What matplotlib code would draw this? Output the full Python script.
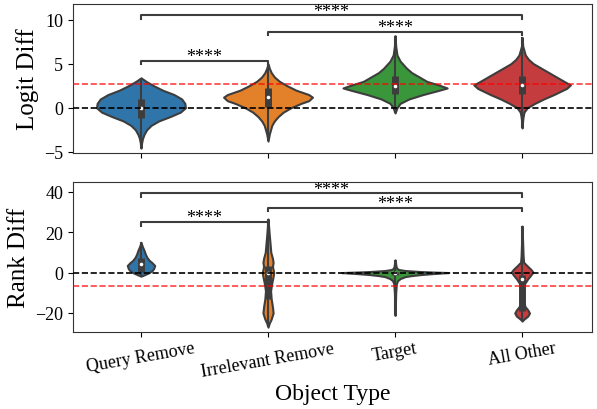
import matplotlib
matplotlib.use('Agg')
import matplotlib.pyplot as plt
import numpy as np

plt.rcParams['font.family'] = ['Liberation Serif', 'DejaVu Serif']
plt.rcParams['mathtext.fontset'] = 'stix'

categories = ["Query Remove", "Irrelevant Remove", "Target", "All Other"]
colors = ['#2f75aa', '#e3812b', '#3a963a', '#c43c3d']

# ---- Logit Diff violin profiles (value, half width) ----
logit_qr_y = [-4.6, -4.0, -3.5, -3.0, -2.5, -2.0, -1.5, -1.0, -0.5, 0.0, 0.5, 1.0, 1.5, 2.0, 2.5, 3.0, 3.4]
logit_qr_w = [0.0, 0.005, 0.012, 0.025, 0.045, 0.08, 0.14, 0.23, 0.31, 0.35, 0.345, 0.32, 0.26, 0.17, 0.1, 0.04, 0.0]
logit_ir_y = [-3.8, -3.0, -2.0, -1.5, -1.0, -0.5, 0.0, 0.5, 0.8, 1.2, 1.5, 2.0, 2.5, 3.0, 3.5, 4.0, 4.5, 5.0]
logit_ir_w = [0.0, 0.01, 0.03, 0.05, 0.08, 0.12, 0.18, 0.26, 0.32, 0.35, 0.32, 0.22, 0.15, 0.09, 0.05, 0.025, 0.01, 0.0]
logit_tg_y = [-0.6, 0.0, 0.5, 1.0, 1.5, 2.0, 2.25, 2.6, 3.0, 3.5, 4.0, 4.5, 5.3, 6.0, 7.0, 8.2]
logit_tg_w = [0.0, 0.015, 0.04, 0.11, 0.22, 0.35, 0.41, 0.34, 0.25, 0.19, 0.13, 0.09, 0.04, 0.015, 0.005, 0.0]
logit_ao_y = [-2.3, -1.5, -1.0, -0.5, 0.0, 0.5, 1.0, 1.5, 2.2, 2.6, 3.0, 3.5, 4.0, 4.5, 5.0, 5.5, 6.0, 7.0, 8.0]
logit_ao_w = [0.0, 0.004, 0.008, 0.015, 0.04, 0.1, 0.17, 0.25, 0.35, 0.38, 0.33, 0.27, 0.21, 0.15, 0.09, 0.05, 0.025, 0.005, 0.0]
logit_q1 = [-1.2, 0.1, 1.6, 1.6]
logit_median = [0.0, 1.2, 2.45, 2.6]
logit_q3 = [1.0, 2.3, 3.65, 3.65]
logit_min = [-4.6, -3.8, -0.6, -2.3]
logit_max = [3.4, 5.0, 8.2, 8.0]

# ---- Rank Diff violin profiles ----
rank_qr_y = [-1.8, -1.0, 0.0, 1.0, 2.0, 3.5, 5.0, 6.0, 7.5, 9.0, 11.0, 13.0, 15.0]
rank_qr_w = [0.0, 0.03, 0.065, 0.088, 0.1, 0.108, 0.085, 0.065, 0.047, 0.035, 0.024, 0.01, 0.0]
rank_ir_y = [-27.0, -25.0, -23.0, -20.0, -17.0, -13.0, -9.0, -5.0, -2.0, 0.0, 1.5, 3.0, 5.0, 7.0, 10.0, 15.0, 20.0, 26.5]
rank_ir_w = [0.0, 0.01, 0.025, 0.04, 0.035, 0.025, 0.02, 0.03, 0.04, 0.045, 0.04, 0.035, 0.04, 0.035, 0.022, 0.015, 0.008, 0.0]
rank_tg_y = [-21.2, -15.0, -10.0, -5.5, -4.0, -3.0, -2.0, -1.5, -1.0, -0.5, -0.25, 0.0, 0.25, 0.5, 1.0, 1.5, 2.0, 3.0, 6.3]
rank_tg_w = [0.0, 0.003, 0.005, 0.01, 0.02, 0.04, 0.08, 0.13, 0.2, 0.3, 0.36, 0.42, 0.3, 0.2, 0.08, 0.03, 0.015, 0.008, 0.0]
rank_ao_y = [-24.0, -23.0, -21.5, -20.0, -18.5, -17.0, -15.0, -12.0, -8.0, -5.6, -3.0, -1.5, 0.2, 1.5, 3.0, 5.1, 8.0, 15.0, 23.0]
rank_ao_w = [0.0, 0.015, 0.045, 0.058, 0.045, 0.025, 0.012, 0.01, 0.01, 0.018, 0.045, 0.065, 0.085, 0.07, 0.045, 0.012, 0.008, 0.004, 0.0]
rank_q1 = [0.5, -13.0, -1.0, -19.0]
rank_median = [4.3, 0.0, 0.0, -3.0]
rank_q3 = [7.0, 3.0, 0.5, -1.0]
rank_min = [-1.8, -27.0, -21.2, -24.0]
rank_max = [15.0, 26.5, 6.3, 23.0]

# reference lines
logit_ref_red = 2.65
rank_ref_red = -6.7

# significance brackets
pairs = [(0, 1), (1, 3), (0, 3)]
logit_bracket_y = [5.3, 8.6, 10.5]
rank_bracket_y = [24.9, 32.0, 39.2]
bracket_text = ["****", "****", "****"]

line_c = '#3d3d3d'

fig = plt.figure(figsize=(5.97, 4.10), dpi=100)
ax1 = fig.add_axes([0.1223, 0.6244, 0.8693, 0.3634])
ax2 = fig.add_axes([0.1223, 0.1878, 0.8693, 0.3659])


def draw_violins(ax, ys, ws, q1, med, q3, mn, mx):
    stats = []
    widths = []
    for y, w, m, a, b in zip(ys, ws, med, mn, mx):
        stats.append(dict(coords=np.array(y), vals=np.array(w), mean=m,
                          median=m, min=a, max=b))
        widths.append(2 * max(w))
    pos = list(range(len(ys)))
    parts = ax.violin(stats, positions=pos, widths=widths, showextrema=False)
    for body, c in zip(parts['bodies'], colors):
        body.set_facecolor(c)
        body.set_edgecolor(line_c)
        body.set_linewidth(1.5)
        body.set_alpha(1)
        body.set_zorder(2)
    for i in pos:
        ax.plot([i, i], [mn[i], mx[i]], color=line_c, lw=1.5, zorder=3,
                solid_capstyle='butt')
        ax.plot([i, i], [q1[i], q3[i]], color=line_c, lw=5, zorder=3,
                solid_capstyle='butt')
        ax.plot([i], [med[i]], 'o', color='white', ms=2.6, mew=0, zorder=4)


def draw_brackets(ax, ys, h):
    for (a, b), y, t in zip(pairs, ys, bracket_text):
        ax.plot([a, a, b, b], [y - h, y, y, y - h], color=line_c, lw=1.5,
                zorder=5)
        ax.annotate(t, xy=((a + b) / 2, y), xytext=(0, -0.2),
                    textcoords='offset points', ha='center', va='baseline',
                    fontsize=13, color='black')


draw_violins(ax1, [logit_qr_y, logit_ir_y, logit_tg_y, logit_ao_y],
             [logit_qr_w, logit_ir_w, logit_tg_w, logit_ao_w],
             logit_q1, logit_median, logit_q3, logit_min, logit_max)
draw_violins(ax2, [rank_qr_y, rank_ir_y, rank_tg_y, rank_ao_y],
             [rank_qr_w, rank_ir_w, rank_tg_w, rank_ao_w],
             rank_q1, rank_median, rank_q3, rank_min, rank_max)

ax1.set_ylim(-5.15, 11.8)
ax2.set_ylim(-29.4, 44.8)
for ax in (ax1, ax2):
    ax.set_xlim(-0.535, 3.55)
    ax.axhline(0, color='black', ls='--', lw=1.2, zorder=6)
ax1.axhline(logit_ref_red, color='red', ls='--', lw=1.2, alpha=0.75, zorder=6)
ax2.axhline(rank_ref_red, color='red', ls='--', lw=1.2, alpha=0.75, zorder=6)

draw_brackets(ax1, logit_bracket_y, 0.022 * (11.8 + 5.15))
draw_brackets(ax2, rank_bracket_y, 0.022 * (44.8 + 29.4))

ax1.set_yticks([-5, 0, 5, 10])
ax2.set_yticks([-20, 0, 20, 40])
ax1.set_xticks(range(4))
ax1.set_xticklabels([])
ax2.set_xticks(range(4))
ax2.set_xticklabels(categories, rotation=10, ha='center')
for ax in (ax1, ax2):
    ax.tick_params(labelsize=13)
    for s in ax.spines.values():
        s.set_color('#333333')
ax2.tick_params(axis='x', pad=2)

ax1.set_ylabel("Logit Diff", fontsize=18)
ax2.set_ylabel("Rank Diff", fontsize=18)
ax2.set_xlabel("Object Type", fontsize=17, labelpad=2)

fig.savefig('out.png', dpi=100)
